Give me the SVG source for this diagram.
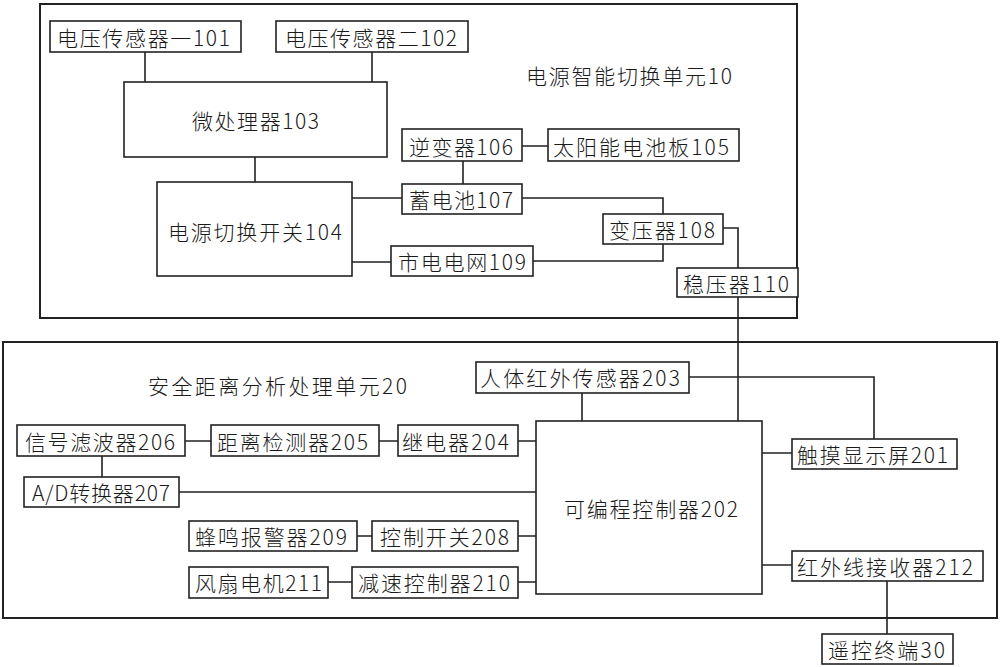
<svg xmlns="http://www.w3.org/2000/svg" width="1000" height="667" viewBox="0 0 1000 667">
<style>
.unit{fill:none;stroke:#222;stroke-width:2}
.box{fill:#fff;stroke:#222;stroke-width:1.6}
.t{font-family:"Noto Sans CJK SC","Noto Sans",sans-serif;font-size:21px;font-weight:300;fill:#1a1a1a;text-anchor:middle;dominant-baseline:central}
.c{fill:none;stroke:#222;stroke-width:1.6}
</style>
<rect width="1000" height="667" fill="#fff"/>
<g id="unit10">
<rect class="unit" x="40" y="4" width="757" height="314"/>
<text class="t" x="629" y="75" textLength="206" lengthAdjust="spacing">电源智能切换单元10</text>
</g>
<g id="unit20">
<rect class="unit" x="3" y="342" width="994" height="276"/>
<text class="t" x="277.5" y="385" textLength="259" lengthAdjust="spacing">安全距离分析处理单元20</text>
</g>
<g id="connectors">
<path class="c" d="M145 52V82M372 52V82M255 157V182M352 198H402M352 262H391M522 146H548M463 161V184M522 198H663V214M533 261H663V244M723 228H738V268M738 297V421M582 393V421M689 377H874V439M185 441H211M379 441H398M518 441H536M102 456V477M179 492H536M357 536H372M518 536H536M328 582H352M518 582H536M762 453H792M762 565H792M887 581V634"/>
</g>
<g id="n101"><rect class="box" x="50" y="21" width="191" height="31"/><text class="t" x="143.5" y="37" textLength="173" lengthAdjust="spacing">电压传感器一101</text></g>
<g id="n102"><rect class="box" x="276" y="21" width="192" height="31"/><text class="t" x="371" y="37" textLength="172" lengthAdjust="spacing">电压传感器二102</text></g>
<g id="n103"><rect class="box" x="124" y="82" width="263" height="75"/><text class="t" x="255.5" y="120" textLength="127" lengthAdjust="spacing">微处理器103</text></g>
<g id="n104"><rect class="box" x="157" y="182" width="195" height="94"/><text class="t" x="255" y="231" textLength="174" lengthAdjust="spacing">电源切换开关104</text></g>
<g id="n106"><rect class="box" x="402" y="129" width="120" height="32"/><text class="t" x="461" y="146" textLength="104" lengthAdjust="spacing">逆变器106</text></g>
<g id="n105"><rect class="box" x="548" y="129" width="191" height="32"/><text class="t" x="641" y="146" textLength="176" lengthAdjust="spacing">太阳能电池板105</text></g>
<g id="n107"><rect class="box" x="402" y="184" width="120" height="30"/><text class="t" x="461" y="199" textLength="104" lengthAdjust="spacing">蓄电池107</text></g>
<g id="n108"><rect class="box" x="603" y="214" width="120" height="30"/><text class="t" x="662" y="229" textLength="106" lengthAdjust="spacing">变压器108</text></g>
<g id="n109"><rect class="box" x="391" y="246" width="142" height="30"/><text class="t" x="462" y="261" textLength="128" lengthAdjust="spacing">市电电网109</text></g>
<g id="n110"><rect class="box" x="677" y="268" width="121" height="29"/><text class="t" x="736" y="283" textLength="106" lengthAdjust="spacing">稳压器110</text></g>
<g id="n203"><rect class="box" x="476" y="362" width="213" height="31"/><text class="t" x="580" y="377" textLength="200" lengthAdjust="spacing">人体红外传感器203</text></g>
<g id="n206"><rect class="box" x="17" y="425" width="168" height="31"/><text class="t" x="100" y="441" textLength="150" lengthAdjust="spacing">信号滤波器206</text></g>
<g id="n205"><rect class="box" x="211" y="425" width="168" height="31"/><text class="t" x="292.5" y="441" textLength="151" lengthAdjust="spacing">距离检测器205</text></g>
<g id="n204"><rect class="box" x="398" y="425" width="120" height="31"/><text class="t" x="455.5" y="441" textLength="107" lengthAdjust="spacing">继电器204</text></g>
<g id="n202"><rect class="box" x="536" y="421" width="226" height="173"/><text class="t" x="651" y="508" textLength="174" lengthAdjust="spacing">可编程控制器202</text></g>
<g id="n201"><rect class="box" x="792" y="439" width="165" height="30"/><text class="t" x="872.5" y="454" textLength="151" lengthAdjust="spacing">触摸显示屏201</text></g>
<g id="n207"><rect class="box" x="24" y="477" width="155" height="30"/><text class="t" x="101" y="492" textLength="138" lengthAdjust="spacing">A/D转换器207</text></g>
<g id="n209"><rect class="box" x="189" y="521" width="168" height="30"/><text class="t" x="271" y="536" textLength="152" lengthAdjust="spacing">蜂鸣报警器209</text></g>
<g id="n208"><rect class="box" x="372" y="521" width="146" height="30"/><text class="t" x="444.5" y="536" textLength="129" lengthAdjust="spacing">控制开关208</text></g>
<g id="n211"><rect class="box" x="189" y="567" width="139" height="31"/><text class="t" x="258.5" y="582" textLength="127" lengthAdjust="spacing">风扇电机211</text></g>
<g id="n210"><rect class="box" x="352" y="567" width="166" height="31"/><text class="t" x="434" y="582" textLength="152" lengthAdjust="spacing">减速控制器210</text></g>
<g id="n212"><rect class="box" x="792" y="551" width="191" height="30"/><text class="t" x="885" y="566" textLength="176" lengthAdjust="spacing">红外线接收器212</text></g>
<g id="n30"><rect class="box" x="822" y="634" width="131" height="30"/><text class="t" x="886.5" y="649" textLength="117" lengthAdjust="spacing">遥控终端30</text></g>
</svg>
